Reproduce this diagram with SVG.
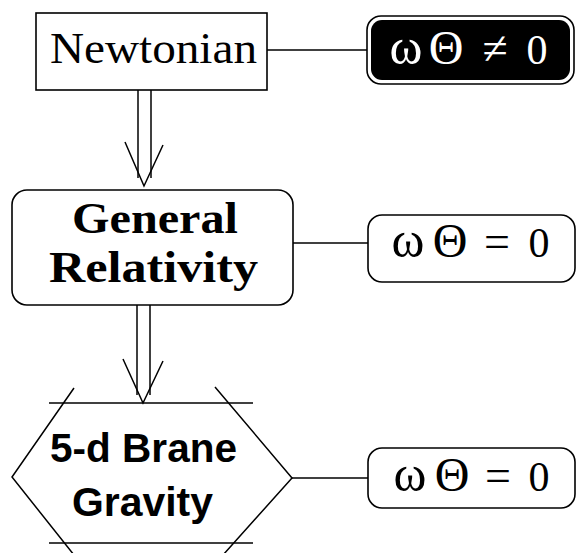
<svg xmlns="http://www.w3.org/2000/svg" width="577" height="553" viewBox="0 0 577 553">
<style>
.ln{stroke:#000;stroke-width:1.5;fill:none}
.box{stroke:#000;stroke-width:1.6;fill:#fff}
.serif{font-family:"Liberation Serif","Times New Roman",serif}
.sans{font-family:"Liberation Sans",Arial,sans-serif;font-weight:bold}
.eq{font-family:"Liberation Serif","DejaVu Serif",serif;font-size:42px;text-anchor:middle}
.om{font-size:50px}
.th{font-size:48px}
.op{font-size:46px}
</style>
<rect width="577" height="553" fill="#fff"/>
<g id="connectors">
<line class="ln" x1="267" y1="50" x2="367" y2="50"/>
<line class="ln" x1="293" y1="243" x2="368" y2="243"/>
<line class="ln" x1="292" y1="478" x2="368" y2="478"/>
<g id="arrow1">
<line class="ln" x1="138" y1="90" x2="138" y2="178"/>
<line class="ln" x1="151" y1="90" x2="151" y2="178"/>
<polyline class="ln" points="125,142 144,186 163,145"/>
</g>
<g id="arrow2">
<line class="ln" x1="137" y1="305" x2="137" y2="395"/>
<line class="ln" x1="150" y1="305" x2="150" y2="395"/>
<polyline class="ln" points="123,359 143,403 163,361"/>
</g>
</g>
<g id="newtonian">
<rect class="box" x="36" y="13" width="231" height="77"/>
<text class="serif" x="153.5" y="63" font-size="45" text-anchor="middle" textLength="207" lengthAdjust="spacingAndGlyphs">Newtonian</text>
</g>
<g id="gr">
<rect class="box" x="12" y="190" width="281" height="115" rx="15"/>
<text class="serif" font-weight="bold" x="155" y="233" font-size="44" text-anchor="middle" textLength="166" lengthAdjust="spacingAndGlyphs">General</text>
<text class="serif" font-weight="bold" x="153.5" y="282" font-size="44" text-anchor="middle" textLength="209" lengthAdjust="spacingAndGlyphs">Relativity</text>
</g>
<g id="brane">
<line class="ln" x1="49" y1="403" x2="253" y2="403"/>
<line class="ln" x1="49" y1="543" x2="253" y2="543"/>
<polyline class="ln" points="74,388 12,477 74,555"/>
<polyline class="ln" points="215,387 292,478 223,555"/>
<text class="sans" x="143.5" y="462" font-size="40" text-anchor="middle" textLength="187" lengthAdjust="spacingAndGlyphs">5-d Brane</text>
<text class="sans" x="142.5" y="516" font-size="40" text-anchor="middle" textLength="141" lengthAdjust="spacingAndGlyphs">Gravity</text>
</g>
<g id="cond1">
<rect x="367" y="16" width="207" height="68" rx="14" fill="#fff" stroke="#000" stroke-width="1.6"/>
<rect x="371" y="20" width="199" height="60" rx="11" fill="#000"/>
<text class="eq" y="64" fill="#fff"><tspan class="om" x="406">ω</tspan><tspan class="th" x="446">Θ</tspan><tspan class="op" x="495">≠</tspan><tspan x="537">0</tspan></text>
</g>
<g id="cond2">
<rect class="box" x="368" y="215" width="207" height="67" rx="14"/>
<text class="eq" y="257"><tspan class="om" x="408">ω</tspan><tspan class="th" x="450">Θ</tspan><tspan class="op" x="497">=</tspan><tspan x="539">0</tspan></text>
</g>
<g id="cond3">
<rect class="box" x="368" y="448" width="207" height="60" rx="14"/>
<text class="eq" y="491"><tspan class="om" x="410">ω</tspan><tspan class="th" x="452">Θ</tspan><tspan class="op" x="498">=</tspan><tspan x="539">0</tspan></text>
</g>
</svg>
